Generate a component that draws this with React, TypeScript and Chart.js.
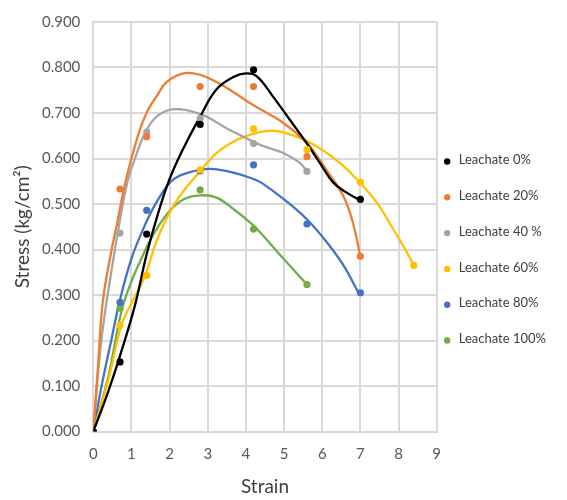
import React, { useEffect, useRef } from "react";
import { Chart, registerables } from "chart.js";

Chart.register(...registerables);

// ---- Data ----
const seriesLabels = ["Leachate 0%", "Leachate 20%", "Leachate 40 %", "Leachate 60%", "Leachate 80%", "Leachate 100%"];
const seriesColors = ["#000000", "#ED7D31", "#A5A5A5", "#FFC000", "#4472C4", "#70AD47"];

// measured points (markers)
const strain0 = [0, 0.7, 1.4, 2.8, 4.2, 7];
const stress0 = [0, 0.153, 0.434, 0.675, 0.795, 0.51];
const strain20 = [0, 0.7, 1.4, 2.8, 4.2, 5.6, 7];
const stress20 = [0, 0.533, 0.648, 0.758, 0.758, 0.604, 0.385];
const strain40 = [0, 0.7, 1.4, 2.8, 4.2, 5.6];
const stress40 = [0, 0.436, 0.658, 0.688, 0.633, 0.572];
const strain60 = [0, 0.7, 1.4, 2.8, 4.2, 5.6, 7, 8.4];
const stress60 = [0, 0.234, 0.343, 0.575, 0.665, 0.62, 0.548, 0.365];
const strain80 = [0, 0.7, 1.4, 2.8, 4.2, 5.6, 7];
const stress80 = [0, 0.284, 0.486, 0.573, 0.586, 0.456, 0.305];
const strain100 = [0, 0.7, 2.8, 4.2, 5.6];
const stress100 = [0, 0.271, 0.531, 0.445, 0.323];

// smoothed trend curves
const curveX0 = [0, 0.4, 0.75, 1.1, 1.4, 1.7, 2.0, 2.36, 2.8, 3.23, 3.67, 4.0, 4.28, 4.72, 5.16, 5.59, 5.94, 6.29, 6.64, 6.95];
const curveY0 = [0, 0.09, 0.18, 0.28, 0.39, 0.48, 0.555, 0.622, 0.692, 0.752, 0.779, 0.787, 0.781, 0.735, 0.684, 0.634, 0.59, 0.547, 0.525, 0.51];
const curveX20 = [0, 0.12, 0.25, 0.47, 0.63, 0.82, 1.04, 1.22, 1.43, 1.7, 1.92, 2.36, 2.8, 3.23, 3.67, 4.1, 4.6, 5.0, 5.6, 6.1, 6.55, 6.8, 7.0];
const curveY20 = [0, 0.14, 0.286, 0.395, 0.46, 0.54, 0.612, 0.663, 0.706, 0.742, 0.768, 0.787, 0.784, 0.768, 0.746, 0.722, 0.698, 0.677, 0.634, 0.576, 0.518, 0.46, 0.385];
const curveX40 = [0, 0.21, 0.47, 0.72, 0.9, 1.08, 1.35, 1.61, 1.96, 2.3, 2.6, 2.97, 3.5, 3.93, 4.37, 4.98, 5.42, 5.6];
const curveY40 = [0, 0.2, 0.35, 0.475, 0.55, 0.597, 0.655, 0.688, 0.706, 0.708, 0.703, 0.692, 0.666, 0.648, 0.63, 0.612, 0.59, 0.572];
const curveX60 = [0, 0.39, 0.74, 1.05, 1.37, 1.62, 1.9, 2.27, 2.8, 3.23, 3.67, 4.1, 4.72, 5.33, 5.85, 6.47, 6.95, 7.43, 7.86, 8.21, 8.39];
const curveY60 = [0, 0.112, 0.234, 0.29, 0.345, 0.41, 0.465, 0.518, 0.572, 0.612, 0.637, 0.652, 0.661, 0.648, 0.627, 0.59, 0.55, 0.503, 0.445, 0.395, 0.366];
const curveX80 = [0, 0.21, 0.47, 0.69, 1.0, 1.35, 1.7, 2.1, 2.62, 3.06, 3.67, 4.19, 4.4, 5.0, 5.59, 6.12, 6.55, 6.95];
const curveY80 = [0, 0.097, 0.2, 0.286, 0.38, 0.453, 0.51, 0.554, 0.572, 0.577, 0.569, 0.555, 0.547, 0.51, 0.467, 0.416, 0.366, 0.305];
const curveX100 = [0, 0.39, 0.74, 1.0, 1.26, 1.57, 1.96, 2.36, 2.8, 3.23, 3.67, 4.1, 4.37, 4.98, 5.6];
const curveY100 = [0, 0.12, 0.265, 0.33, 0.38, 0.432, 0.481, 0.51, 0.519, 0.514, 0.489, 0.46, 0.438, 0.38, 0.323];

const xTicks = [0, 1, 2, 3, 4, 5, 6, 7, 8, 9];
const yTicks = [0, 0.1, 0.2, 0.3, 0.4, 0.5, 0.6, 0.7, 0.8, 0.9];

const pointSets = [
  [strain0, stress0], [strain20, stress20], [strain40, stress40],
  [strain60, stress60], [strain80, stress80], [strain100, stress100],
];
const curveSets = [
  [curveX0, curveY0], [curveX20, curveY20], [curveX40, curveY40],
  [curveX60, curveY60], [curveX80, curveY80], [curveX100, curveY100],
];

const FONT = "Lato, 'Open Sans', sans-serif";
const GRID = "#D9D9D9";
const TEXT = "#595959";

const zip = (xs: number[], ys: number[]) => xs.map((x, i) => ({ x, y: ys[i] }));

const sideLegend = {
  id: "sideLegend",
  afterDraw(chart: any) {
    const { ctx, chartArea } = chart;
    ctx.save();
    const dotX = chartArea.right + 10.5;
    const textX = chartArea.right + 22;
    const y0 = 160;
    const dy = 35.8;
    ctx.font = `13px ${FONT}`;
    ctx.textBaseline = "middle";
    ctx.textAlign = "left";
    seriesLabels.forEach((lab, i) => {
      const y = y0 + i * dy;
      ctx.fillStyle = seriesColors[i];
      ctx.beginPath();
      ctx.arc(dotX, y + 1.5, 3.2, 0, Math.PI * 2);
      ctx.fill();
      ctx.fillStyle = "#404040";
      ctx.fillText(lab, textX, y);
    });
    ctx.restore();
  },
};

export default function App() {
  const ref = useRef<HTMLCanvasElement | null>(null);
  useEffect(() => {
    document.body.style.margin = "0";
    const canvas = ref.current;
    if (!canvas) return;
    const datasets: any[] = [];
    pointSets.forEach(([xs, ys], i) => {
      datasets.push({
        label: seriesLabels[i],
        data: zip(xs, ys),
        showLine: false,
        pointRadius: 3.6,
        pointBackgroundColor: seriesColors[i],
        pointBorderColor: seriesColors[i],
        pointBorderWidth: 0,
        order: 0,
      });
    });
    curveSets.forEach(([xs, ys], i) => {
      datasets.push({
        label: seriesLabels[i] + " trend",
        data: zip(xs, ys),
        showLine: true,
        pointRadius: 0,
        borderColor: seriesColors[i],
        borderWidth: 2.3,
        tension: 0.4,
        order: 1,
      });
    });
    const chart = new Chart(canvas, {
      type: "scatter",
      data: { datasets },
      options: {
        animation: false,
        responsive: false,
        layout: { padding: { left: 0, top: 15.5, right: 130.3, bottom: 0 } },
        plugins: { legend: { display: false }, tooltip: { enabled: false } },
        scales: {
          x: {
            type: "linear",
            min: 0,
            max: 9,
            afterFit: (axis: any) => { axis.height = 68.5; },
            afterBuildTicks: (axis: any) => { axis.ticks = xTicks.map((v) => ({ value: v })); },
            ticks: { color: TEXT, font: { family: FONT, size: 15 }, padding: 14, callback: (v: any) => String(v) },
            grid: { color: GRID, lineWidth: 2, drawTicks: false },
            border: { color: GRID, width: 2 },
            title: { display: true, text: "Strain", color: "#404040", font: { family: FONT, size: 19 }, padding: { top: 0, bottom: 2 } },
          },
          y: {
            type: "linear",
            min: 0,
            max: 0.9,
            afterFit: (axis: any) => { axis.width = 93.3; },
            afterBuildTicks: (axis: any) => { axis.ticks = yTicks.map((v) => ({ value: v })); },
            ticks: { color: TEXT, font: { family: FONT, size: 15 }, padding: 13, callback: (v: any) => Number(v).toFixed(3) },
            grid: { color: GRID, lineWidth: 2, drawTicks: false },
            border: { color: GRID, width: 2 },
            title: { display: true, text: "Stress (kg/cm²)", color: "#404040", font: { family: FONT, size: 19 }, padding: { top: 11, bottom: 0 } },
          },
        },
      },
      plugins: [sideLegend],
    });
    return () => chart.destroy();
  }, []);
  return <canvas ref={ref} width={567} height={500} style={{ display: "block" }} />;
}
